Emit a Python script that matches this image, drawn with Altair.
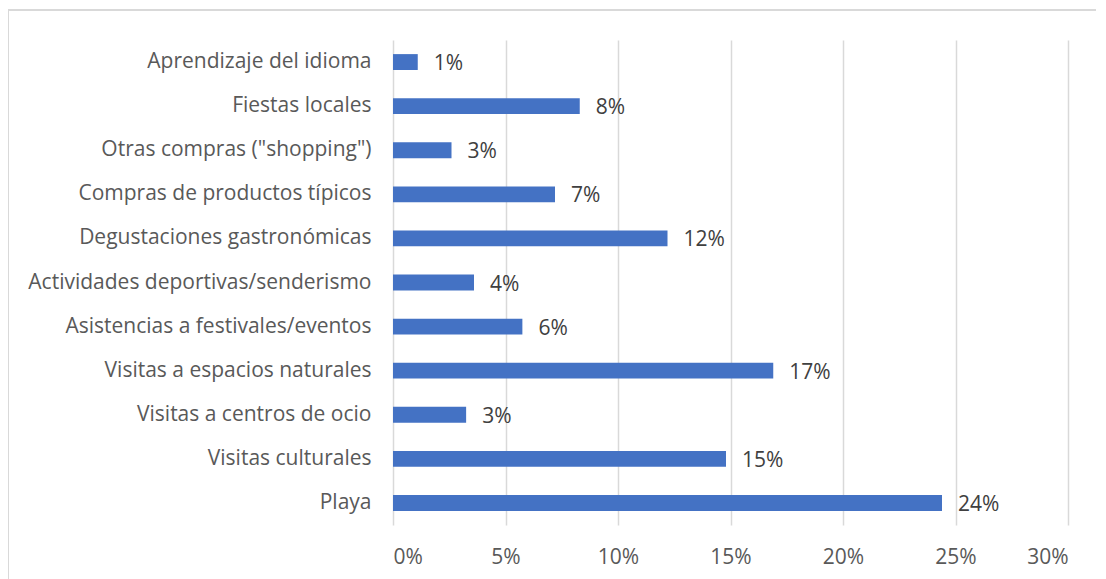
import altair as alt
import pandas as pd

categories = [
    "Aprendizaje del idioma",
    "Fiestas locales",
    "Otras compras (\"shopping\")",
    "Compras de productos típicos",
    "Degustaciones gastronómicas",
    "Actividades deportivas/senderismo",
    "Asistencias a festivales/eventos",
    "Visitas a espacios naturales",
    "Visitas a centros de ocio",
    "Visitas culturales",
    "Playa",
]
values = [0.011, 0.083, 0.026, 0.072, 0.122, 0.036, 0.0575, 0.169, 0.0325, 0.148, 0.244]
x_ticks = [0, 0.05, 0.10, 0.15, 0.20, 0.25, 0.30]

df = pd.DataFrame({"cat": categories, "val": values})

FONT = "Open Sans"
FS = 21

base = alt.Chart(df).encode(
    y=alt.Y("cat:N", sort=categories, title=None,
            scale=alt.Scale(paddingInner=0.64, paddingOuter=0.32),
            axis=alt.Axis(domain=False, ticks=False, labelPadding=22,
                          labelFontSize=FS, labelColor="#595959", labelFont=FONT,
                          labelLimit=400)),
)

bars = base.mark_bar(color="#4472C4").encode(
    x=alt.X("val:Q", title=None,
            scale=alt.Scale(domain=[0, 0.30], nice=False),
            axis=alt.Axis(values=x_ticks, format=".0%", domain=False, ticks=False,
                          labelPadding=21, labelFontSize=FS, labelColor="#595959",
                          labelFont=FONT, grid=True, gridColor="#d9d9d9", gridWidth=1.5)),
)

labels = base.mark_text(align="left", baseline="middle", dx=16, dy=2, fontSize=FS,
                        color="#404040", font=FONT).encode(
    x="val:Q",
    text=alt.Text("val:Q", format=".0%"),
)

frame = alt.Chart(df).mark_rect(filled=False, stroke="#d9d9d9", strokeWidth=1.5).encode(
    x=alt.value(-385), x2=alt.value(800), y=alt.value(-30), y2=alt.value(600)
)

chart = alt.layer(frame, bars, labels).properties(
    width=675, height=485,
    padding={"left": 385, "top": 32, "right": 28, "bottom": 54},
    autosize=alt.AutoSizeParams(type="none"),
    background="white",
).configure_view(stroke=None)

chart.save("out.html", embed_options={"renderer": "svg", "actions": False})
